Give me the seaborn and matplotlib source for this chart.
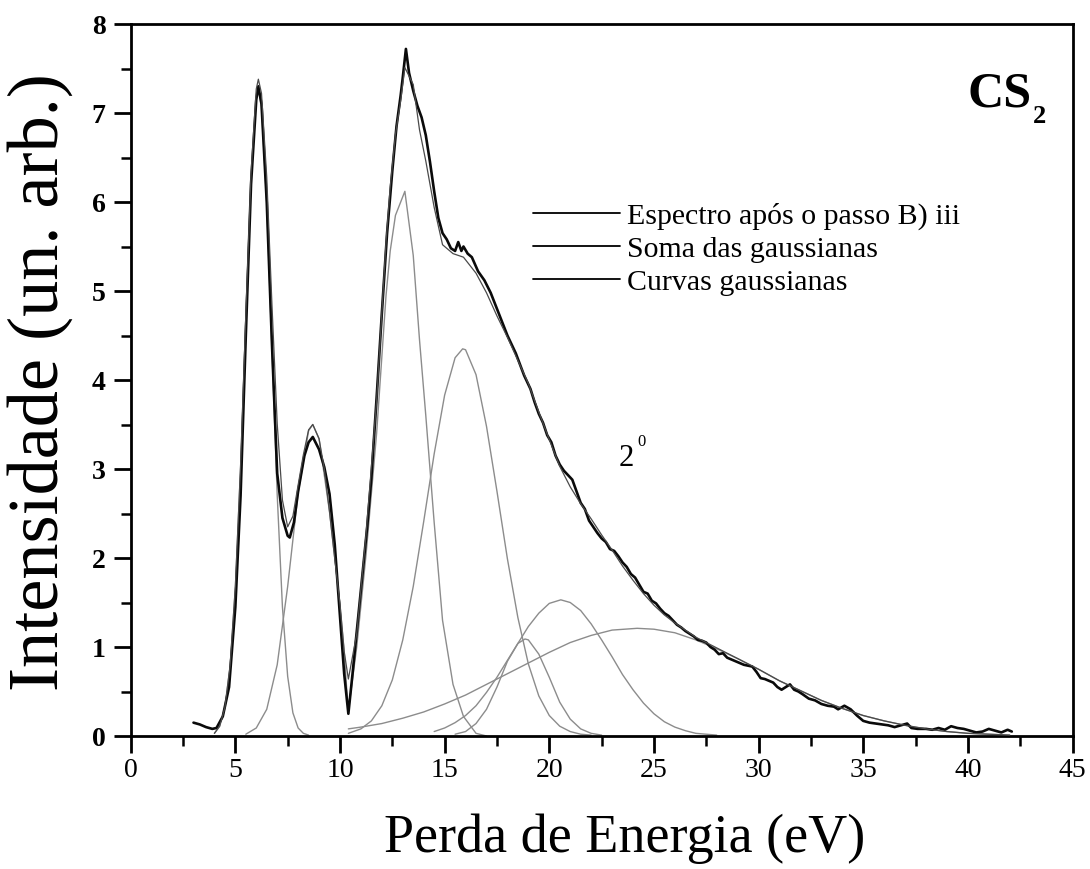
import matplotlib
matplotlib.use("Agg")
import numpy as np
import pandas as pd
import matplotlib.pyplot as plt
import seaborn as sns
from matplotlib.lines import Line2D
from matplotlib.ticker import MultipleLocator

# ---------------- data ----------------
# measured spectrum (thick black line)
spec_x = [3.0, 3.3, 3.6, 3.9, 4.1, 4.4, 4.7, 5.0, 5.25, 5.5, 5.75, 6.0, 6.1, 6.25, 6.5, 6.75,
          7.0, 7.25, 7.5, 7.6, 7.8, 8.0, 8.3, 8.5, 8.7, 9.0, 9.25, 9.5, 9.75, 10.0, 10.2, 10.4,
          10.6, 10.8, 11.0, 11.3, 11.5, 11.75, 12.0, 12.25, 12.5, 12.7, 12.9, 13.0, 13.15, 13.3,
          13.5, 13.7, 13.9, 14.1, 14.3, 14.5, 14.7, 14.9, 15.1, 15.3, 15.5, 15.65, 15.8, 15.9,
          16.1, 16.3, 16.6, 16.9, 17.2, 17.6, 18.0, 18.4, 18.8, 19.1, 19.3, 19.5, 19.7, 19.9,
          20.1, 20.3, 20.5, 20.7, 20.9, 21.1, 21.3, 21.5, 21.7, 21.9, 22.1, 22.3, 22.5, 22.7,
          22.9, 23.1, 23.3, 23.5, 23.7, 23.9, 24.1, 24.3, 24.5, 24.7, 24.9, 25.1, 25.3, 25.5,
          25.7, 25.9, 26.1, 26.3, 26.5, 26.7, 26.9, 27.1, 27.3, 27.5, 27.7, 27.9, 28.1, 28.3,
          28.5, 28.7, 28.9, 29.1, 29.3, 29.5, 29.7, 29.9, 30.1, 30.3, 30.5, 30.7, 30.9, 31.1,
          31.3, 31.5, 31.7, 31.9, 32.1, 32.4, 32.7, 33.0, 33.3, 33.6, 33.8, 34.1, 34.4, 34.7,
          35.0, 35.3, 35.6, 35.9, 36.2, 36.5, 36.8, 37.1, 37.3, 37.6, 38.0, 38.3, 38.6, 38.9,
          39.2, 39.5, 39.8, 40.1, 40.4, 40.7, 41.0, 41.3, 41.6, 41.9, 42.1]
spec_y = [0.15, 0.13, 0.10, 0.08, 0.09, 0.22, 0.55, 1.45, 2.7, 4.5, 6.2, 7.15, 7.3, 7.1, 6.0, 4.4,
          2.95, 2.45, 2.25, 2.23, 2.4, 2.75, 3.15, 3.3, 3.36, 3.22, 3.02, 2.72, 2.15, 1.35, 0.7, 0.25,
          0.7, 1.17, 1.65, 2.35, 2.9, 3.8, 4.75, 5.65, 6.35, 6.85, 7.2, 7.4, 7.72, 7.45,
          7.25, 7.08, 6.95, 6.75, 6.45, 6.12, 5.82, 5.65, 5.58, 5.48, 5.45, 5.55, 5.45, 5.5,
          5.42, 5.38, 5.22, 5.12, 4.98, 4.74, 4.5, 4.3, 4.05, 3.9, 3.75, 3.62, 3.52, 3.38,
          3.3, 3.15, 3.05, 2.98, 2.93, 2.88, 2.75, 2.62, 2.55, 2.42, 2.35, 2.28, 2.22, 2.18,
          2.10, 2.08, 2.02, 1.95, 1.9, 1.82, 1.78, 1.7, 1.62, 1.6, 1.52, 1.49, 1.43, 1.38,
          1.35, 1.3, 1.25, 1.22, 1.18, 1.15, 1.12, 1.08, 1.07, 1.05, 1.0, 0.97, 0.92, 0.93,
          0.88, 0.86, 0.84, 0.82, 0.8, 0.79, 0.78, 0.72, 0.65, 0.64, 0.62, 0.60, 0.55, 0.52,
          0.55, 0.58, 0.52, 0.50, 0.47, 0.42, 0.40, 0.36, 0.34, 0.33, 0.30, 0.34, 0.30, 0.23,
          0.17, 0.15, 0.14, 0.13, 0.12, 0.10, 0.12, 0.14, 0.09, 0.08, 0.08, 0.07, 0.09, 0.07,
          0.11, 0.09, 0.08, 0.06, 0.04, 0.05, 0.08, 0.06, 0.04, 0.07, 0.05]

# sum of the gaussians (thin dark grey line)
sum_x = [4.0, 4.25, 4.5, 4.75, 5.0, 5.25, 5.5, 5.75, 6.0, 6.1, 6.25, 6.5, 6.75, 7.0, 7.25, 7.5,
         7.75, 8.0, 8.25, 8.5, 8.7, 9.0, 9.25, 9.5, 9.75, 10.0, 10.2, 10.4, 10.8, 11.25, 11.75,
         12.2, 12.4, 12.65, 12.9, 13.1, 13.5, 13.8, 14.1, 14.5, 14.9, 15.4, 15.9, 16.5, 17.0,
         17.5, 18.0, 18.5, 19.0, 19.5, 20.0, 20.5, 21.0, 21.5, 22.0, 22.5, 23.0, 23.5, 24.0,
         24.5, 25.0, 25.5, 26.0, 26.5, 27.0, 27.5, 28.0, 29.0, 30.0, 31.0, 32.0, 33.0, 34.0,
         35.0, 36.0, 37.0, 38.0, 39.0, 40.0, 41.0, 42.0]
sum_y = [0.03, 0.11, 0.32, 0.79, 1.68, 3.04, 4.73, 6.33, 7.27, 7.38, 7.22, 6.28, 4.84, 3.51, 2.65, 2.35,
         2.47, 2.82, 3.16, 3.44, 3.50, 3.34, 3.00, 2.52, 1.99, 1.48, 0.95, 0.64, 1.15, 2.28, 3.77,
         5.55, 6.17, 6.76, 7.14, 7.51, 7.32, 6.81, 6.46, 5.94, 5.52, 5.42, 5.38, 5.2, 4.98,
         4.72, 4.48, 4.22, 3.96, 3.64, 3.33, 3.03, 2.80, 2.61, 2.44, 2.26, 2.09, 1.91, 1.75,
         1.60, 1.47, 1.36, 1.27, 1.19, 1.11, 1.05, 0.99, 0.87, 0.75, 0.62, 0.51, 0.40, 0.31,
         0.23, 0.17, 0.12, 0.08, 0.05, 0.03, 0.02, 0.01]

# individual gaussian curves (thin light grey lines)
g1_x = [4.0, 4.25, 4.5, 4.75, 5.0, 5.25, 5.5, 5.75, 6.0, 6.1, 6.25, 6.5, 6.75, 7.0, 7.25, 7.5,
        7.75, 8.0, 8.25, 8.5]
g1_y = [0.03, 0.11, 0.32, 0.79, 1.66, 3.01, 4.69, 6.26, 7.18, 7.27, 7.07, 5.98, 4.34, 2.71, 1.45, 0.67,
        0.26, 0.09, 0.03, 0.01]
g2_x = [5.5, 6.0, 6.5, 7.0, 7.5, 8.0, 8.5, 8.7, 9.0, 9.5, 10.0, 10.2, 10.4]
g2_y = [0.02, 0.09, 0.30, 0.80, 1.68, 2.73, 3.43, 3.50, 3.34, 2.52, 1.48, 0.95, 0.25]
g3_x = [10.4, 10.8, 11.25, 11.75, 12.2, 12.4, 12.65, 12.9, 13.1, 13.5, 13.8, 14.1, 14.5, 14.9,
        15.4, 15.9, 16.5, 17.0]
g3_y = [0.28, 1.0, 2.05, 3.4, 4.95, 5.45, 5.85, 6.0, 6.12, 5.4, 4.45, 3.6, 2.4, 1.3,
        0.58, 0.22, 0.03, 0.0]
g4_x = [10.4, 11.0, 11.5, 12.0, 12.5, 13.0, 13.5, 14.0, 14.5, 15.0, 15.5, 15.86, 16.0, 16.5,
        17.0, 17.5, 18.0, 18.5, 19.0, 19.5, 20.0, 20.5, 21.0, 21.5, 22.0]
g4_y = [0.03, 0.08, 0.17, 0.34, 0.63, 1.08, 1.68, 2.41, 3.17, 3.83, 4.25, 4.35, 4.34, 4.06,
        3.48, 2.75, 1.99, 1.33, 0.81, 0.45, 0.23, 0.11, 0.05, 0.02, 0.01]
g5_x = [15.5, 16.0, 16.5, 17.0, 17.5, 18.0, 18.5, 18.84, 19.0, 19.5, 20.0, 20.5, 21.0, 21.5,
        22.0, 22.5]
g5_y = [0.02, 0.05, 0.14, 0.30, 0.55, 0.84, 1.04, 1.09, 1.08, 0.92, 0.66, 0.38, 0.19, 0.08,
        0.03, 0.01]
g6_x = [14.5, 15.0, 15.5, 16.0, 16.5, 17.0, 17.5, 18.0, 18.5, 19.0, 19.5, 20.0, 20.55, 21.0,
        21.5, 22.0, 22.5, 23.0, 23.5, 24.0, 24.5, 25.0, 25.5, 26.0, 26.5, 27.0, 27.5, 28.0]
g6_y = [0.05, 0.09, 0.15, 0.23, 0.34, 0.49, 0.66, 0.85, 1.04, 1.23, 1.38, 1.49, 1.53, 1.50,
        1.41, 1.26, 1.08, 0.89, 0.69, 0.52, 0.37, 0.25, 0.16, 0.10, 0.06, 0.03, 0.02, 0.01]
g7_x = [10.4, 11.0, 12.0, 13.0, 14.0, 15.0, 16.0, 17.0, 18.0, 19.0, 20.0, 21.0, 22.0, 23.0,
        24.2, 25.0, 26.0, 27.0, 28.0, 29.0, 30.0, 31.0, 32.0, 33.0, 34.0, 35.0, 36.0, 37.0,
        38.0, 39.0, 40.0, 41.0, 42.0]
g7_y = [0.08, 0.10, 0.14, 0.20, 0.27, 0.36, 0.46, 0.58, 0.70, 0.82, 0.94, 1.05, 1.13, 1.19,
        1.21, 1.20, 1.16, 1.08, 0.98, 0.87, 0.75, 0.62, 0.51, 0.40, 0.31, 0.23, 0.17, 0.12,
        0.08, 0.05, 0.03, 0.02, 0.01]

gauss_x = [g1_x, g2_x, g3_x, g4_x, g5_x, g6_x, g7_x]
gauss_y = [g1_y, g2_y, g3_y, g4_y, g5_y, g6_y, g7_y]

x_ticks = [0, 5, 10, 15, 20, 25, 30, 35, 40, 45]
x_tick_labels = ["0", "5", "10", "15", "20", "25", "30", "35", "40", "45"]
y_ticks = [0, 1, 2, 3, 4, 5, 6, 7, 8]
y_tick_labels = ["0", "1", "2", "3", "4", "5", "6", "7", "8"]

legend_labels = ["Espectro após o passo B) iii", "Soma das gaussianas", "Curvas gaussianas"]
x_label = "Perda de Energia (eV)"
y_label = "Intensidade (un. arb.)"

# ---------------- style ----------------
sns.set_style("ticks")
plt.rcParams['font.family'] = ['Liberation Serif', 'DejaVu Serif']
plt.rcParams['axes.linewidth'] = 2.0
plt.rcParams['text.color'] = 'black'
plt.rcParams['axes.labelcolor'] = 'black'
plt.rcParams['xtick.color'] = 'black'
plt.rcParams['ytick.color'] = 'black'
plt.rcParams['legend.labelcolor'] = 'black'

W, H = 1090, 870
fig = plt.figure(figsize=(W / 100, H / 100), dpi=100)
fig.patch.set_facecolor("white")
x0_px, x1_px, y0_px, y1_px = 130.7, 1072.5, 737.0, 25.0
ax = fig.add_axes([x0_px / W, 1 - y0_px / H, (x1_px - x0_px) / W, (y0_px - y1_px) / H])
ax.set_facecolor("white")

GAUSS_COLOR = "#8c8c8c"
SUM_COLOR = "#4a4a4a"

for gx, gy in zip(gauss_x, gauss_y):
    df = pd.DataFrame({"E": gx, "I": gy})
    sns.lineplot(data=df, x="E", y="I", ax=ax, color=GAUSS_COLOR, linewidth=1.0,
                 estimator=None, sort=False, zorder=2)

df_spec = pd.DataFrame({"E": spec_x, "I": spec_y})
sns.lineplot(data=df_spec, x="E", y="I", ax=ax, color="#0a0a0a", linewidth=1.9,
             estimator=None, sort=False, zorder=3)
df_sum = pd.DataFrame({"E": sum_x, "I": sum_y})
sns.lineplot(data=df_sum, x="E", y="I", ax=ax, color=SUM_COLOR, linewidth=0.9,
             estimator=None, sort=False, zorder=4)

ax.set_xlim(0, 45)
ax.set_ylim(0, 8)
ax.set_xticks(x_ticks)
ax.set_xticklabels(x_tick_labels, fontsize=20, color="black")
ax.set_yticks(y_ticks)
ax.set_yticklabels(y_tick_labels, fontsize=20, fontweight="bold", color="black")
ax.xaxis.set_minor_locator(MultipleLocator(2.5))
ax.yaxis.set_minor_locator(MultipleLocator(0.5))
ax.tick_params(which="major", direction="out", length=12, width=2.0, color="black",
               labelcolor="black")
ax.tick_params(axis="x", which="major", pad=3)
ax.tick_params(axis="y", which="major", pad=6)
ax.tick_params(which="minor", direction="out", length=7, width=1.8, color="black")
ax.tick_params(top=False, right=False, which="both")
for s in ax.spines.values():
    s.set_visible(True)
    s.set_color("black")
    s.set_linewidth(2.0)
ax.set_xlabel("")
ax.set_ylabel("")

fig.text(625 / W, 1 - 852 / H, x_label, fontsize=39, ha="center", va="baseline",
         color="black")
fig.text(40 / W, 1 - 382 / H, y_label, fontsize=52, rotation=90, ha="center", va="center",
         color="black")

# legend
handles = [Line2D([], [], color="black", linewidth=1.3) for _ in legend_labels]
leg = ax.legend(handles, legend_labels, loc="upper left",
                bbox_to_anchor=((533 - x0_px) / (x1_px - x0_px), (y0_px - 203) / (y0_px - y1_px)),
                frameon=False, fontsize=21.5, handlelength=2.9, handletextpad=0.25,
                labelspacing=0.2, borderpad=0, borderaxespad=0)
for t in leg.get_texts():
    t.set_color("black")

# annotations
ax.text(39.96, 7.08, "CS", fontsize=36, fontweight="bold", ha="left", va="baseline",
        color="black")
ax.text(43.1, 6.9, "2", fontsize=19, fontweight="bold", ha="left", va="baseline",
        color="black")
ax.text(23.3, 3.05, "2", fontsize=22, ha="left", va="baseline", color="black")
ax.text(24.2, 3.27, "0", fontsize=12, ha="left", va="baseline", color="black")

fig.savefig("out.png", dpi=100, facecolor="white")
